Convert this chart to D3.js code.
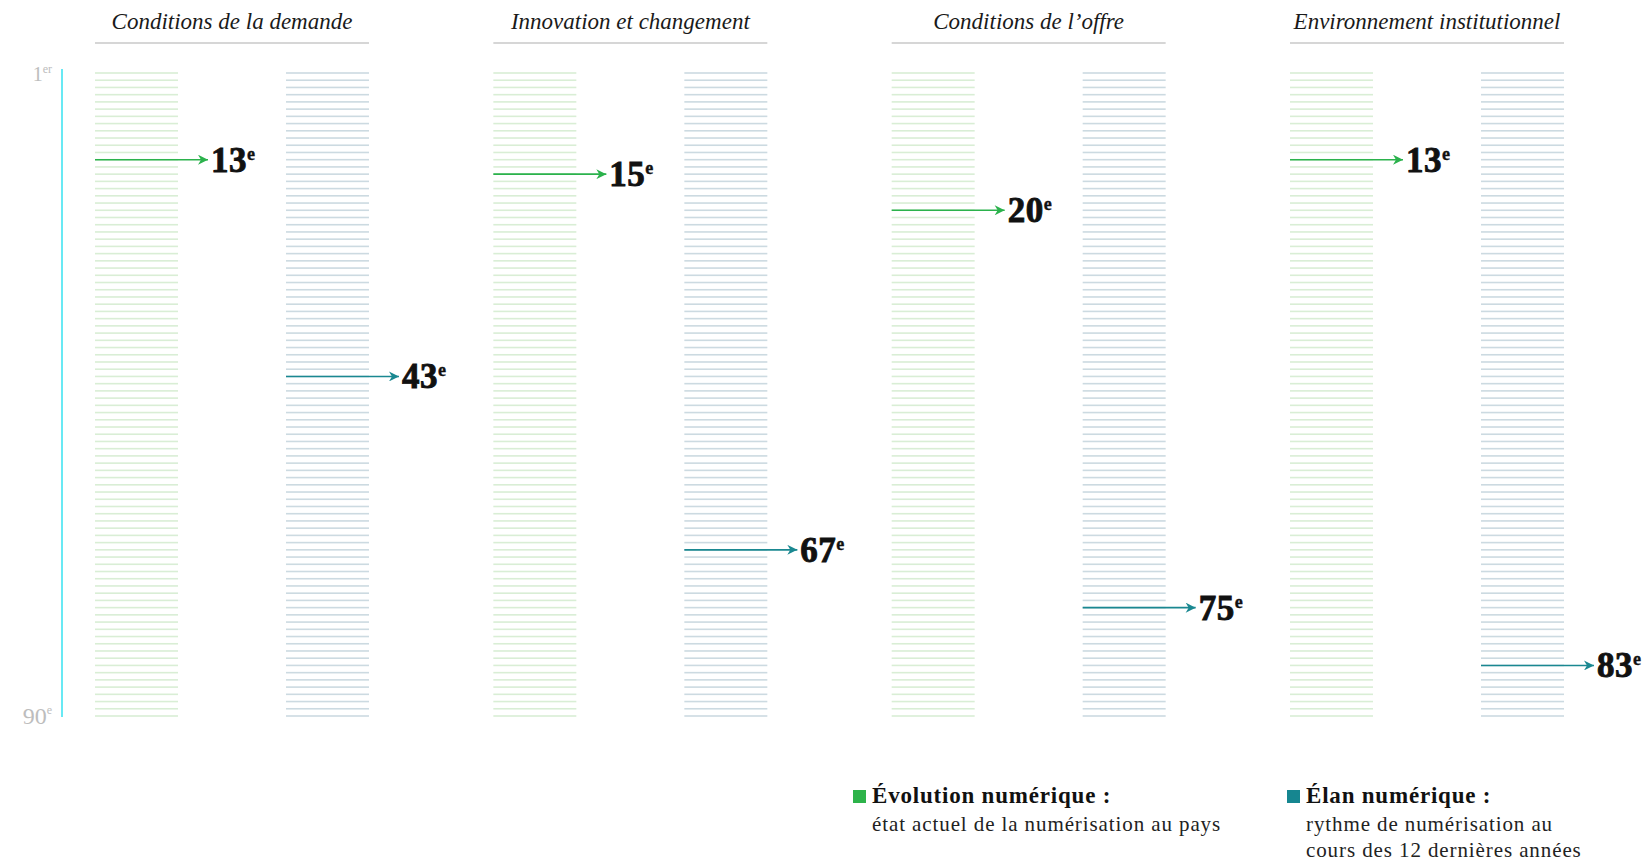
<!DOCTYPE html>
<html>
<head>
<meta charset="utf-8">
<script src="https://cdn.jsdelivr.net/npm/d3@7"></script>
<style>
  html, body { margin: 0; padding: 0; background: #fff; }
  svg { display: block; }
</style>
</head>
<body>
<svg id="chart" width="1646" height="863"></svg>
<script>
// ---- data ----
const categories = ["Conditions de la demande", "Innovation et changement", "Conditions de l’offre", "Environnement institutionnel"];
const series = ["evolution", "elan"];
const evolutionRanks = [13, 15, 20, 13];
const elanRanks = [43, 67, 75, 83];
const rankDomain = [1, 90];
const axisLabels = [{rank: 1, num: "1", sup: "er"}, {rank: 90, num: "90", sup: "e"}];
const legendTitles = ["Évolution numérique :", "Élan numérique :"];
const legendLines = [["état actuel de la numérisation au pays"], ["rythme de numérisation au", "cours des 12 dernières années"]];

// ---- styles ----
const stripeColor = {evolution: "#d9eed5", elan: "#ccdae1"};
const arrowColor = {evolution: "#2bb24c", elan: "#1a8891"};
const legendColor = {evolution: "#2db34a", elan: "#168690"};
const serif = "'Liberation Serif', 'DejaVu Serif', serif";

const svg = d3.select("#chart");

const y = d3.scaleLinear().domain(rankDomain).range([73, 716]);
const xGroup = d3.scalePoint().domain(categories).range([95, 1290]);
const xSeries = d3.scalePoint().domain(series).range([0, 191]);
const stripeW = 83;
const groupW = 274;
const ranks = d3.range(rankDomain[0], rankDomain[1] + 1);

// arrow markers
const defs = svg.append("defs");
series.forEach(s => {
  defs.append("marker")
    .attr("id", "arrow-" + s)
    .attr("viewBox", "0 0 10 10")
    .attr("refX", 10).attr("refY", 5)
    .attr("markerUnits", "userSpaceOnUse")
    .attr("markerWidth", 13).attr("markerHeight", 10)
    .attr("orient", "auto")
    .append("path")
    .attr("d", "M0,0 L10,5 L0,10 L3,5 Z")
    .attr("fill", arrowColor[s]);
});

// left axis
svg.append("line")
  .attr("x1", 62).attr("x2", 62)
  .attr("y1", y(rankDomain[0]) - 4).attr("y2", y(rankDomain[1]) + 1)
  .attr("stroke", "#36e2f0").attr("stroke-width", 1.5);

axisLabels.forEach((d, i) => {
  const t = svg.append("text")
    .attr("x", 52)
    .attr("y", y(d.rank) + 8)
    .attr("text-anchor", "end")
    .attr("font-family", serif)
    .attr("font-size", i === 0 ? 20 : 24)
    .attr("fill", "#bdbdbd");
  t.append("tspan").text(d.num);
  t.append("tspan").attr("dy", i === 0 ? -8 : -10).attr("font-size", 12).text(d.sup);
});

// groups
const groups = svg.selectAll("g.group")
  .data(categories.map((c, i) => ({cat: c, vals: {evolution: evolutionRanks[i], elan: elanRanks[i]}})))
  .join("g")
  .attr("class", "group")
  .attr("transform", d => `translate(${xGroup(d.cat)},0)`);

groups.append("text")
  .attr("x", groupW / 2)
  .attr("y", 29)
  .attr("text-anchor", "middle")
  .attr("font-family", serif)
  .attr("font-style", "italic")
  .attr("font-size", 23)
  .attr("fill", "#1a1a1a")
  .text(d => d.cat);

groups.append("line")
  .attr("x1", 0).attr("x2", groupW)
  .attr("y1", 43).attr("y2", 43)
  .attr("stroke", "#c9c9c9").attr("stroke-width", 1.5);

series.forEach(s => {
  const col = groups.append("g").attr("transform", `translate(${xSeries(s)},0)`);
  col.selectAll("rect.stripe")
    .data(ranks)
    .join("rect")
    .attr("class", "stripe")
    .attr("x", 0).attr("width", stripeW)
    .attr("y", r => y(r) - 0.8).attr("height", 1.6)
    .attr("fill", stripeColor[s]);

  col.append("line")
    .attr("x1", 0)
    .attr("x2", 113)
    .attr("y1", d => y(d.vals[s])).attr("y2", d => y(d.vals[s]))
    .attr("stroke", arrowColor[s]).attr("stroke-width", 1.6)
    .attr("marker-end", `url(#arrow-${s})`);

  const lbl = col.append("text")
    .attr("x", 116)
    .attr("y", d => y(d.vals[s]) + 12)
    .attr("font-family", serif)
    .attr("font-weight", "bold")
    .attr("font-size", 35)
    .attr("stroke", "#111")
    .attr("stroke-width", 0.9)
    .attr("letter-spacing", 0.5)
    .attr("fill", "#111");
  lbl.append("tspan").text(d => d.vals[s]);
  lbl.append("tspan").attr("dy", -12).attr("font-size", 18).attr("stroke-width", 0.4).text("e");
});

// legend
const legendX = [853, 1287];
series.forEach((s, i) => {
  const g = svg.append("g").attr("transform", `translate(${legendX[i]},0)`);
  g.append("rect").attr("x", 0).attr("y", 790).attr("width", 13).attr("height", 13)
    .attr("fill", legendColor[s]);
  g.append("text")
    .attr("x", 19).attr("y", 803)
    .attr("font-family", serif).attr("font-weight", "bold").attr("font-size", 23)
    .attr("letter-spacing", 0.8)
    .attr("fill", "#111")
    .text(legendTitles[i]);
  legendLines[i].forEach((l, j) => {
    g.append("text")
      .attr("x", 19).attr("y", 831 + j * 26)
      .attr("font-family", serif).attr("font-size", 21)
      .attr("letter-spacing", 0.9)
      .attr("fill", "#222")
      .text(l);
  });
});
</script>
</body>
</html>
